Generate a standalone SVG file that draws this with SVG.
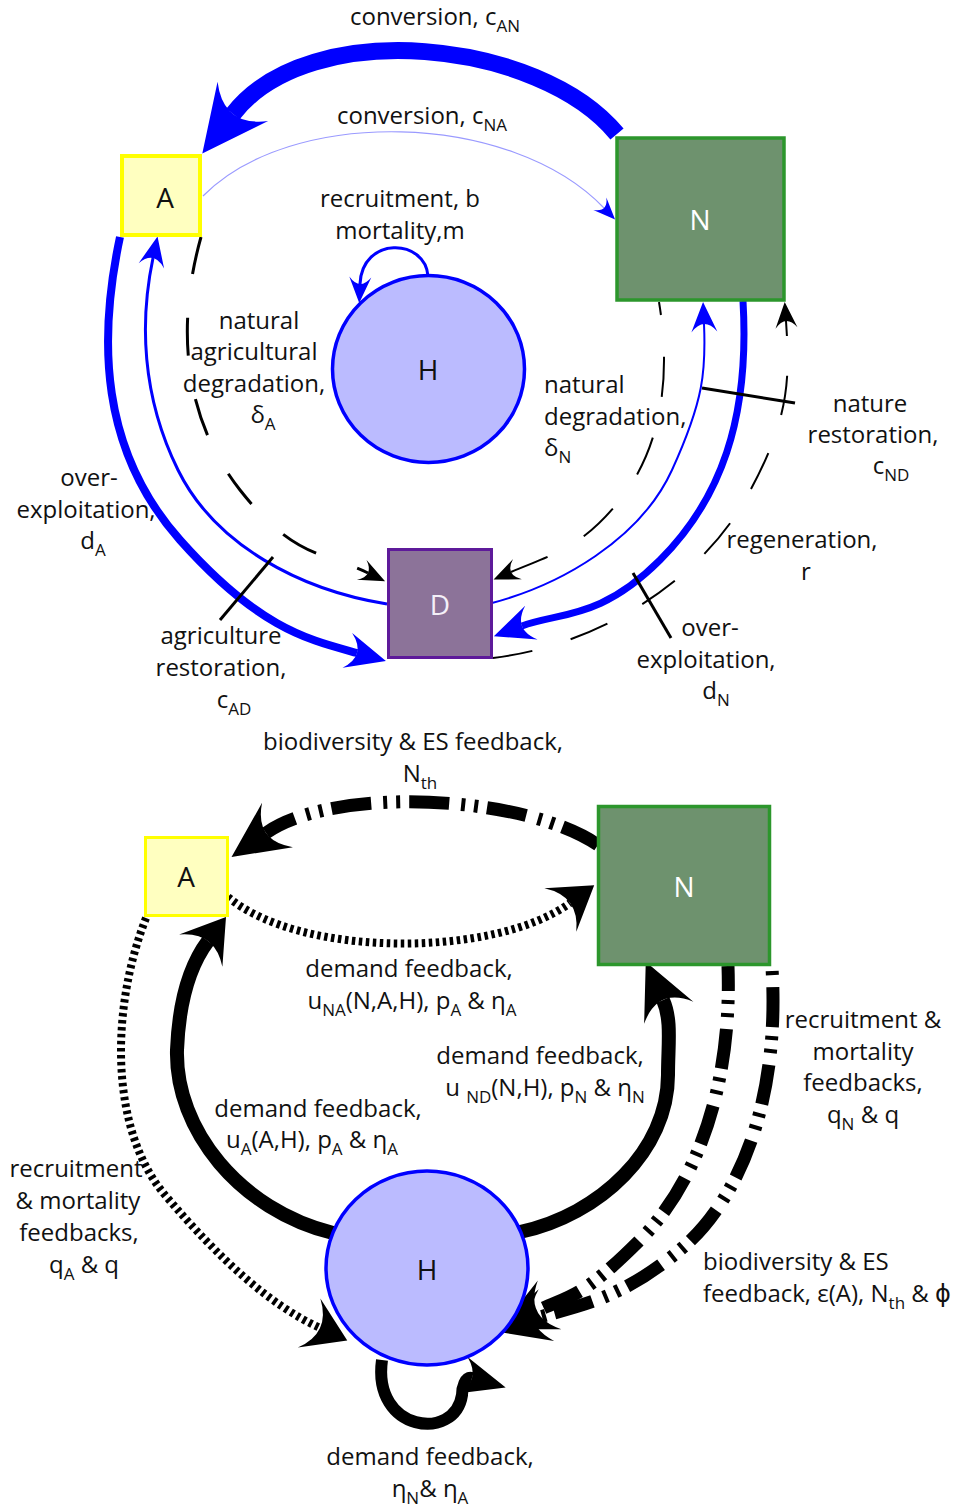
<svg xmlns="http://www.w3.org/2000/svg" width="978" height="1511" viewBox="0 0 978 1511">
<style>
.t{font-family:'Open Sans','DejaVu Sans',sans-serif;font-size:24px;fill:#111}
.m{text-anchor:middle}
.s{font-size:17px}
.lbl{font-family:'Open Sans','DejaVu Sans',sans-serif;font-size:28px;text-anchor:middle}
.c{fill:none}
.blue{stroke:#0000ff}
.blk{stroke:#000}
.dot{stroke-dasharray:3.5 3.5}
.dd{stroke-dasharray:40 9 4 9 4 12}
</style>
<defs>
<marker id="mBXL" markerUnits="userSpaceOnUse" orient="auto" overflow="visible" markerWidth="1" markerHeight="1"><path d="M50,0 L-16,-32 Q16,0 -16,32 Z" fill="#0000ff"/></marker>
<marker id="mBM" markerUnits="userSpaceOnUse" orient="auto" overflow="visible" markerWidth="1" markerHeight="1"><path d="M30,0 L-10,-18 Q10,0 -10,18 Z" fill="#0000ff"/></marker>
<marker id="mBS" markerUnits="userSpaceOnUse" orient="auto" overflow="visible" markerWidth="1" markerHeight="1"><path d="M22,0 L-8,-13 Q8,0 -8,13 Z" fill="#0000ff"/></marker>
<marker id="mBXS" markerUnits="userSpaceOnUse" orient="auto" overflow="visible" markerWidth="1" markerHeight="1"><path d="M16,0 L-6,-9 Q6,0 -6,9 Z" fill="#0000ff"/></marker>
<marker id="mBH" markerUnits="userSpaceOnUse" orient="auto" overflow="visible" markerWidth="1" markerHeight="1"><path d="M19,0 L-7,-11 Q7,0 -7,11 Z" fill="#0000ff"/></marker>
<marker id="mKS" markerUnits="userSpaceOnUse" orient="auto" overflow="visible" markerWidth="1" markerHeight="1"><path d="M19,0 L-7,-11 Q7,0 -7,11 Z" fill="#000"/></marker>
<marker id="mKA" markerUnits="userSpaceOnUse" orient="auto" overflow="visible" markerWidth="1" markerHeight="1"><path d="M30,0 L-12,-27 Q12,0 -12,27 Z" fill="#000"/></marker>
<marker id="mKB" markerUnits="userSpaceOnUse" orient="auto" overflow="visible" markerWidth="1" markerHeight="1"><path d="M42,0 L-14,-27 Q14,0 -14,27 Z" fill="#000"/></marker>
<marker id="mKM" markerUnits="userSpaceOnUse" orient="auto" overflow="visible" markerWidth="1" markerHeight="1"><path d="M35,0 L-10,-19 Q10,0 -10,19 Z" fill="#000"/></marker>
</defs>

<g id="connectors">
<!-- top -->
<path class="c blue" stroke-width="17" d="M617,134 C540,40 310,15 233,114" marker-end="url(#mBXL)"/>
<path class="c" stroke="#9a9aff" stroke-width="1.2" d="M203,196 C290,107 510,110 604,208" marker-end="url(#mBXS)"/>
<path class="c blue" stroke-width="3" d="M428,276 C425,238 362,236 360,284" marker-end="url(#mBH)"/>
<path class="c blue" stroke-width="8" d="M120,237 C98,340 100,450 180,540 S310,640 357,653" marker-end="url(#mBM)"/>
<path class="c blue" stroke-width="3" d="M387,604 C300,590 215,545 178,470 S140,320 153,258" marker-end="url(#mBS)"/>
<path class="c blue" stroke-width="2" d="M492,603 C560,585 640,540 672,470 S706,370 704,324" marker-end="url(#mBS)"/>
<path class="c blue" stroke-width="7" d="M743,301 C750,420 720,500 660,560 S560,612 522,626" marker-end="url(#mBM)"/>
<path class="c blk" stroke-width="3" stroke-dasharray="38 44" d="M201,237 C175,330 185,420 240,490 S325,552 368,573" marker-end="url(#mKS)"/>
<path class="c blk" stroke-width="2" stroke-dasharray="40 42" stroke-dashoffset="27" d="M659,302 C672,380 660,450 620,500 S550,555 511,572" marker-end="url(#mKS)"/>
<path class="c blk" stroke-width="2" stroke-dasharray="40 40" d="M493,658 C600,645 700,580 745,500 S790,380 786,321" marker-end="url(#mKS)"/>
<line class="blk" stroke-width="3" x1="702" y1="388" x2="795" y2="403"/>
<line class="blk" stroke-width="3" x1="633" y1="573" x2="671" y2="638"/>
<line class="blk" stroke-width="3" x1="273" y1="557" x2="220" y2="620"/>
<!-- bottom -->
<path class="c blk dd" stroke-width="13" d="M598,845 C525,795 335,785 266,833" marker-end="url(#mKB)"/>
<path class="c blk dot" stroke-width="8" d="M228,897 C300,958 495,958 570,903" marker-end="url(#mKA)"/>
<path class="c blk dot" stroke-width="8" d="M146,918 C110,1010 110,1130 165,1195 S270,1305 320,1328" marker-end="url(#mKA)"/>
<path class="c blk" stroke-width="14" d="M333,1233 C240,1210 175,1130 177,1050 C179,1000 190,965 208,941" marker-end="url(#mKA)"/>
<path class="c blk" stroke-width="14" d="M520,1232 C600,1215 668,1150 668,1075 C668,1045 672,1020 663,1000" marker-end="url(#mKB)"/>
<path class="c blk dd" stroke-width="13" stroke-dashoffset="15" d="M728,966 C732,1080 700,1180 640,1240 S570,1295 537,1311" marker-end="url(#mKB)"/>
<path class="c blk dd" stroke-width="13" stroke-dashoffset="59" d="M772,968 C780,1100 740,1200 680,1250 S580,1305 533,1319" marker-end="url(#mKB)"/>
<path class="c blk" stroke-width="12" d="M382,1360 C372,1432 455,1442 462,1395 C462,1388 465,1376 472,1378" marker-end="url(#mKM)"/>
</g>

<g id="node-A">
<rect x="122" y="156" width="78" height="79" fill="#ffffc0" stroke="#ffff00" stroke-width="4"/>
<text class="lbl" x="165" y="208" fill="#111">A</text>
</g>
<g id="node-N">
<rect x="617" y="138" width="167" height="162" fill="#6e926e" stroke="#2c962c" stroke-width="3.5"/>
<text class="lbl" x="700" y="230" fill="#fff">N</text>
</g>
<g id="node-H">
<ellipse cx="428.5" cy="369" rx="96" ry="93.5" fill="#bbbbff" stroke="#0000ff" stroke-width="3.5"/>
<text class="lbl" x="428" y="380" fill="#111" font-size="26">H</text>
</g>
<g id="node-D">
<rect x="388.5" y="549.5" width="103" height="108" fill="#8c7399" stroke="#5e1a9a" stroke-width="3"/>
<text class="lbl" x="440" y="615" fill="#f4f0f8" font-size="26">D</text>
</g>
<g id="node-A2">
<rect x="145.5" y="837.5" width="82" height="78" fill="#ffffc0" stroke="#ffff00" stroke-width="3"/>
<text class="lbl" x="186" y="887" fill="#111" font-size="26">A</text>
</g>
<g id="node-N2">
<rect x="598.5" y="806.5" width="171" height="158" fill="#6e926e" stroke="#2c962c" stroke-width="3.5"/>
<text class="lbl" x="684" y="897" fill="#fff" font-size="27">N</text>
</g>
<g id="node-H2">
<ellipse cx="427" cy="1268" rx="101" ry="97" fill="#bbbbff" stroke="#0000ff" stroke-width="3.5"/>
<text class="lbl" x="427" y="1280" fill="#111" font-size="27">H</text>
</g>

<g id="labels">
<text class="t m" x="435" y="25">conversion, c<tspan class="s" dy="7">AN</tspan></text>
<text class="t m" x="422" y="124">conversion, c<tspan class="s" dy="7">NA</tspan></text>
<text class="t m" x="400" y="207">recruitment, b</text>
<text class="t m" x="400" y="239">mortality,m</text>
<text class="t m" x="259" y="329">natural</text>
<text class="t m" x="254" y="360">agricultural</text>
<text class="t m" x="254" y="392">degradation,</text>
<text class="t m" x="263" y="423">δ<tspan class="s" dy="7">A</tspan></text>
<text class="t" x="544" y="393">natural</text>
<text class="t" x="544" y="425">degradation,</text>
<text class="t" x="544" y="456">δ<tspan class="s" dy="7">N</tspan></text>
<text class="t m" x="870" y="412">nature</text>
<text class="t m" x="873" y="443">restoration,</text>
<text class="t m" x="891" y="474">c<tspan class="s" dy="7">ND</tspan></text>
<text class="t m" x="89" y="486">over-</text>
<text class="t m" x="86" y="518">exploitation,</text>
<text class="t m" x="93" y="549">d<tspan class="s" dy="7">A</tspan></text>
<text class="t m" x="802" y="548">regeneration,</text>
<text class="t m" x="806" y="580">r</text>
<text class="t m" x="221" y="644">agriculture</text>
<text class="t m" x="221" y="676">restoration,</text>
<text class="t m" x="234" y="708">c<tspan class="s" dy="7">AD</tspan></text>
<text class="t m" x="710" y="636">over-</text>
<text class="t m" x="706" y="668">exploitation,</text>
<text class="t m" x="716" y="699">d<tspan class="s" dy="7">N</tspan></text>

<text class="t m" x="413" y="750">biodiversity &amp; ES feedback,</text>
<text class="t m" x="420" y="782">N<tspan class="s" dy="7">th</tspan></text>
<text class="t m" x="409" y="977">demand feedback,</text>
<text class="t m" x="412" y="1009">u<tspan class="s" dy="7">NA</tspan><tspan dy="-7">(N,A,H), p</tspan><tspan class="s" dy="7">A</tspan><tspan dy="-7"> &amp; η</tspan><tspan class="s" dy="7">A</tspan></text>
<text class="t m" x="540" y="1064">demand feedback,</text>
<text class="t m" x="545" y="1096">u <tspan class="s" dy="7">ND</tspan><tspan dy="-7">(N,H), p</tspan><tspan class="s" dy="7">N</tspan><tspan dy="-7"> &amp; η</tspan><tspan class="s" dy="7">N</tspan></text>
<text class="t m" x="318" y="1117">demand feedback,</text>
<text class="t m" x="312" y="1148">u<tspan class="s" dy="7">A</tspan><tspan dy="-7">(A,H), p</tspan><tspan class="s" dy="7">A</tspan><tspan dy="-7"> &amp; η</tspan><tspan class="s" dy="7">A</tspan></text>
<text class="t m" x="863" y="1028">recruitment &amp;</text>
<text class="t m" x="863" y="1060">mortality</text>
<text class="t m" x="863" y="1091">feedbacks,</text>
<text class="t m" x="863" y="1123">q<tspan class="s" dy="7">N</tspan><tspan dy="-7"> &amp; q</tspan></text>
<text class="t m" x="76" y="1177">recruitment</text>
<text class="t m" x="78" y="1209">&amp; mortality</text>
<text class="t m" x="79" y="1241">feedbacks,</text>
<text class="t m" x="84" y="1273">q<tspan class="s" dy="7">A</tspan><tspan dy="-7"> &amp; q</tspan></text>
<text class="t" x="703" y="1270">biodiversity &amp; ES</text>
<text class="t" x="703" y="1302">feedback, ε(A), N<tspan class="s" dy="7">th</tspan><tspan dy="-7"> &amp; ϕ</tspan></text>
<text class="t m" x="430" y="1465">demand feedback,</text>
<text class="t m" x="430" y="1497">η<tspan class="s" dy="7">N</tspan><tspan dy="-7">&amp; η</tspan><tspan class="s" dy="7">A</tspan></text>
</g>
</svg>
